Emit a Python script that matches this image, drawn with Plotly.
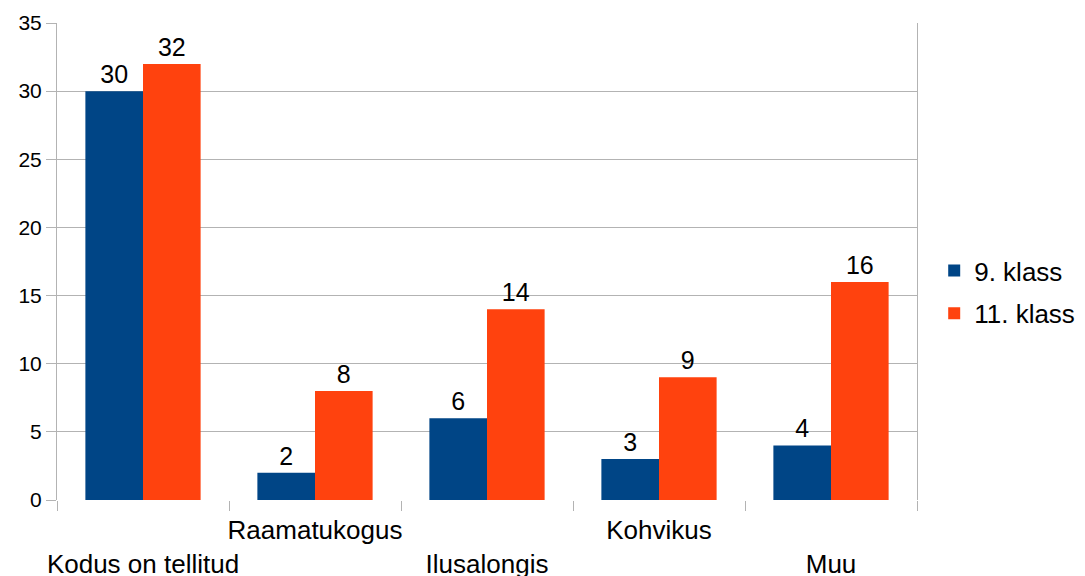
import plotly.graph_objects as go

categories = ["Kodus on tellitud", "Raamatukogus", "Ilusalongis", "Kohvikus", "Muu"]
klass9 = [30, 2, 6, 3, 4]
klass11 = [32, 8, 14, 9, 16]
series_names = ["9. klass", "11. klass"]
colors = ["#004586", "#ff420e"]
y_ticks = [0, 5, 10, 15, 20, 25, 30, 35]

# staggered category labels
tick_text = [("<br>" + c) if i % 2 == 0 else (c + "<br> ") for i, c in enumerate(categories)]

FONT = "Liberation Sans"

fig = go.Figure()
for name, vals, col in zip(series_names, [klass9, klass11], colors):
    fig.add_trace(go.Bar(
        x=categories, y=vals, name=name, marker=dict(color=col, line=dict(width=0)),
        text=[str(v) for v in vals], textposition="outside",
        textfont=dict(size=25, color="black", family=FONT),
        cliponaxis=False, legendgroup=name,
    ))

# page body has an 8px margin, so the figure is placed at (8, 8)
fig.update_layout(
    width=1077, height=568,
    margin=dict(l=49, r=168, t=15, b=76, autoexpand=False),
    paper_bgcolor="white", plot_bgcolor="white",
    barmode="group", bargap=0.33, bargroupgap=0,
    font=dict(family=FONT, size=25, color="black"),
    showlegend=True,
    legend=dict(x=1.02, y=0.436, xanchor="left", yanchor="middle",
                font=dict(size=26), tracegroupgap=6, itemwidth=30),
    uniformtext=dict(minsize=25, mode="show"),
)
fig.update_xaxes(
    type="category", tickmode="array", tickvals=categories, ticktext=tick_text,
    tickson="boundaries", ticks="outside", ticklen=10, tickcolor="#b3b3b3",
    showgrid=False, showline=False, zeroline=False, automargin=False,
    tickfont=dict(size=26), tickangle=0, range=[-0.5, 4.5], ticklabelstandoff=12,
)
fig.update_yaxes(
    range=[0, 35], tickvals=y_ticks, ticks="outside", ticklen=10, tickcolor="#b3b3b3",
    showgrid=True, gridcolor="#b3b3b3", gridwidth=1, automargin=False,
    showline=True, linecolor="#b3b3b3", mirror=True, zeroline=False,
    tickfont=dict(size=21),
)
fig.write_html("out.html")
